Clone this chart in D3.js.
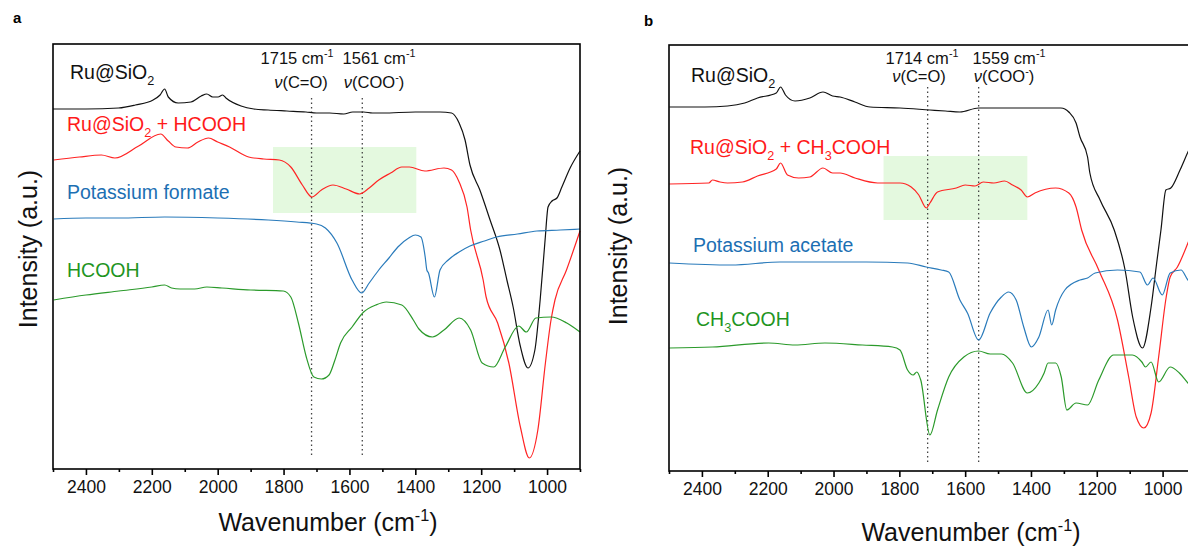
<!DOCTYPE html>
<html>
<head>
<meta charset="utf-8">
<script src="https://cdn.jsdelivr.net/npm/d3@7/dist/d3.min.js"></script>
<style>
body{margin:0;background:#fff;}
svg{font-family:"Liberation Sans",Arial,sans-serif;display:block;}
</style>
</head>
<body>
<div id="chart"></div>
<script>
// x ticks (wavenumber, cm-1)
const majorTicks=[2400,2200,2000,1800,1600,1400,1200,1000];
const minorTicks=[2500,2300,2100,1900,1700,1500,1300,1100,900];

// panel a : [wavenumber, intensity (a.u., offset)]
const aRu=[[2500,360],[2400,360],[2301,361],[2250,364],[2196,369],[2175,374],[2161,380],[2150,372],[2120,366],[2081,367],[2050,373],[2033,375],[2015,372],[1999,372],[1985,374],[1975,371],[1929,363],[1890,360],[1847,359],[1790,358],[1732,357],[1700,356],[1660,356],[1617,355],[1590,357],[1557,357],[1530,356],[1499,356],[1400,357],[1325,357],[1290,356],[1267,346],[1249,329],[1234,304],[1204,279],[1173,249],[1143,219],[1122,189],[1103,162],[1082,124],[1058,101],[1037,119],[1021,169],[1006,229],[997,262],[985,268],[970,271],[955,282],[930,301],[900,318]];
const aRuHCOOH=[[2498,309],[2420,312],[2353,314],[2312,311],[2240,323],[2173,335],[2150,328],[2127,322],[2092,321],[2060,327],[2028,331],[2000,327],[1964,322],[1906,312],[1860,310],[1813,309],[1778,302],[1743,284],[1714,272],[1685,279],[1650,284],[1610,280],[1569,275],[1540,281],[1511,289],[1475,296],[1441,302],[1418,302],[1371,298],[1313,301],[1290,299],[1267,287],[1243,262],[1232,239],[1194,189],[1185,172],[1150,146],[1116,106],[1081,42],[1054,11],[1028,39],[1005,106],[988,149],[976,169],[941,199],[900,238]];
const aKFormate=[[2498,250],[2400,251],[2300,251],[2161,252],[2000,251],[1847,249],[1760,247],[1700,245],[1673,241],[1638,226],[1592,189],[1563,176],[1540,186],[1511,199],[1480,211],[1453,222],[1420,231],[1400,234],[1383,232],[1370,212],[1365,199],[1360,196],[1342,172],[1325,199],[1300,209],[1267,217],[1234,223],[1190,228],[1153,232],[1090,235],[1031,238],[960,239],[900,240]];
const aHCOOH=[[2498,169],[2400,174],[2300,178],[2200,182],[2161,184],[2140,181],[2114,180],[2070,180],[2033,182],[1987,181],[1900,179],[1801,178],[1778,172],[1755,146],[1731,112],[1708,92],[1685,90],[1662,94],[1645,108],[1627,126],[1592,142],[1557,157],[1520,164],[1488,167],[1441,164],[1406,149],[1389,140],[1348,132],[1313,139],[1267,151],[1232,139],[1197,106],[1162,102],[1127,122],[1086,143],[1063,137],[1034,151],[988,152],[940,146],[900,137]];
const aBox=[1832,1397,256,322];
const aPeaks=[1715,1561];

// panel b
const bRu=[[2499,364],[2391,364],[2322,365],[2270,368],[2231,373],[2174,378],[2161,384],[2146,376],[2117,370],[2072,373],[2032,379],[2003,375],[1980,374],[1935,369],[1889,364],[1798,363],[1707,361],[1660,360],[1616,359],[1559,363],[1456,363],[1309,363],[1285,359],[1263,348],[1251,334],[1228,314],[1221,298],[1190,271],[1147,241],[1114,201],[1091,154],[1061,123],[1035,164],[1018,208],[1005,241],[990,281],[975,283],[947,301],[923,319],[900,335]];
const bRuAcOH=[[2499,287],[2379,288],[2368,291],[2345,289],[2322,288],[2277,289],[2231,295],[2174,302],[2161,308],[2140,296],[2106,293],[2072,294],[2032,303],[2003,298],[1980,298],[1935,293],[1866,288],[1798,288],[1764,284],[1741,276],[1718,263],[1707,268],[1684,279],[1627,283],[1600,286],[1570,285],[1545,289],[1513,288],[1480,290],[1456,286],[1430,281],[1411,274],[1388,278],[1325,283],[1285,278],[1263,264],[1246,241],[1194,201],[1137,151],[1103,94],[1080,54],[1057,43],[1035,58],[1012,114],[989,174],[977,194],[955,204],[923,228],[900,248]];
const bKAcetate=[[2499,208],[2311,206],[2163,209],[2026,209],[1900,209],[1775,208],[1718,204],[1673,201],[1650,199],[1616,171],[1593,158],[1559,131],[1524,158],[1490,174],[1468,179],[1445,171],[1422,144],[1399,124],[1376,134],[1348,161],[1337,146],[1325,161],[1297,181],[1251,191],[1228,193],[1205,198],[1137,201],[1069,199],[1046,186],[1029,193],[1001,176],[977,198],[944,201],[923,191],[900,185]];
const bAcOH=[[2499,123],[2368,124],[2197,128],[2117,126],[2026,128],[1912,126],[1821,124],[1798,121],[1775,101],[1758,96],[1747,99],[1735,91],[1707,36],[1684,61],[1650,94],[1604,114],[1559,120],[1524,117],[1490,117],[1456,108],[1411,78],[1376,88],[1360,98],[1348,108],[1325,108],[1308,94],[1291,61],[1263,68],[1228,66],[1194,91],[1149,116],[1092,116],[1063,109],[1052,104],[1035,109],[1012,89],[977,104],[949,98],[923,88],[900,80]];
const bBox=[1848,1411,251,315];
const bPeaks=[1714,1559];

const colBlack="#111",colRed="#ff2424",colBlue="#2a7bbb",colGreen="#2b9a2b";

let svg=d3.select("#chart").append("svg").attr("width",1188).attr("height",547);

// text with sub / superscripts: parts = [[txt, "sub"|"sup"|"it"|undefined], ...]
function richText(g,x,y,parts,fs,color,anchor){
	let t=g.append("text").attr("x",x).attr("y",y).attr("font-size",fs).attr("fill",color).attr("text-anchor",anchor||"start");
	let shift=0;
	parts.forEach(p=>{
		let mode=p[1];
		let target= mode=="sub" ? fs*0.3 : (mode=="sup" ? -fs*0.4 : 0);
		let ts=t.append("tspan").text(p[0]).attr("dy",target-shift);
		if(mode=="sub"||mode=="sup") ts.attr("font-size",fs*0.65);
		if(mode=="it") ts.attr("font-style","italic");
		shift=target;
	});
	return t;
}

function drawPanel(cfg){
	let x=d3.scaleLinear().domain([2500,900]).range([cfg.left,cfg.right]);
	let y=d3.scaleLinear().domain([0,cfg.bottom-cfg.top]).range([cfg.bottom,cfg.top]);
	let g=svg.append("g");

	// green highlight
	g.append("rect")
		.attr("x",x(cfg.box[0])).attr("width",x(cfg.box[1])-x(cfg.box[0]))
		.attr("y",y(cfg.box[3])).attr("height",y(cfg.box[2])-y(cfg.box[3]))
		.attr("fill","#e4f9df");

	// dotted peak markers
	cfg.peaks.forEach(p=>{
		g.append("line").attr("x1",x(p)).attr("x2",x(p))
			.attr("y1",y(cfg.dotTop)).attr("y2",y(cfg.dotBottom))
			.attr("stroke","#444").attr("stroke-width",1.3).attr("stroke-dasharray","1.5,3");
	});

	let line=d3.line().x(d=>x(d[0])).y(d=>y(d[1])).curve(d3.curveMonotoneX);
	cfg.series.forEach(s=>{
		g.append("path").datum(s.data).attr("d",line)
			.attr("fill","none").attr("stroke",s.color).attr("stroke-width",1.2);
	});

	// frame
	g.append("rect").attr("x",cfg.left).attr("y",cfg.top)
		.attr("width",cfg.right-cfg.left).attr("height",cfg.bottom-cfg.top)
		.attr("fill","none").attr("stroke","#000").attr("stroke-width",1.6);

	let ax=g.append("g").attr("transform","translate(0,"+cfg.bottom+")")
		.call(d3.axisBottom(x).tickValues(majorTicks).tickSize(6).tickPadding(6).tickFormat(d3.format("d")));
	ax.select(".domain").remove();
	ax.selectAll("line").attr("stroke-width",1.6);
	ax.selectAll("text").attr("font-size",17.5).attr("font-family","Liberation Sans, Arial").attr("fill","#111");

	let mx=g.append("g").attr("transform","translate(0,"+cfg.bottom+")")
		.call(d3.axisBottom(x).tickValues(minorTicks).tickSize(3).tickFormat(""));
	mx.select(".domain").remove();
	mx.selectAll("line").attr("stroke-width",1.6);

	// axis titles
	richText(svg,cfg.xTitle[0],cfg.xTitle[1],[["Wavenumber (cm"],["-1","sup"],[")"]],25,"#111","middle");
	svg.append("text").attr("transform","translate("+cfg.yTitle[0]+","+cfg.yTitle[1]+") rotate(-90)")
		.attr("text-anchor","middle").attr("font-size",25).attr("fill","#111").text("Intensity (a.u.)");

	svg.append("text").attr("x",cfg.letter[0]).attr("y",cfg.letter[1]).attr("font-size",15)
		.attr("font-weight","bold").text(cfg.id);

	// peak annotations
	let an=cfg.ann;
	richText(svg,an[0][0],an[0][1],[[cfg.peaks[0]+" cm"],["-1","sup"]],16.5,"#111","middle");
	richText(svg,an[1][0],an[1][1],[["ν","it"],["(C=O)"]],16.5,"#111","middle");
	richText(svg,an[2][0],an[2][1],[[cfg.peaks[1]+" cm"],["-1","sup"]],16.5,"#111","middle");
	richText(svg,an[3][0],an[3][1],[["ν","it"],["(COO"],["-","sup"],[")"]],16.5,"#111","middle");

	cfg.labels.forEach(l=>richText(svg,l.x,l.y,l.parts,19.5,l.color));
}

drawPanel({
	id:"a",left:53,right:580,top:44,bottom:469,
	box:aBox,peaks:aPeaks,dotTop:371,dotBottom:12,
	series:[{data:aRu,color:colBlack},{data:aRuHCOOH,color:colRed},{data:aKFormate,color:colBlue},{data:aHCOOH,color:colGreen}],
	xTitle:[328,531],yTitle:[37,249],letter:[13,23],
	ann:[[297,64],[301,88],[379,64],[374,88]],
	labels:[
		{x:70,y:79,color:"#111",parts:[["Ru@SiO"],["2","sub"]]},
		{x:67,y:131,color:"#ff1a1a",parts:[["Ru@SiO"],["2","sub"],[" + HCOOH"]]},
		{x:67,y:199,color:"#1c6fb3",parts:[["Potassium formate"]]},
		{x:67,y:277,color:"#1f951f",parts:[["HCOOH"]]}
	]
});

drawPanel({
	id:"b",left:669,right:1195.5,top:45,bottom:471,
	box:bBox,peaks:bPeaks,dotTop:384,dotBottom:6,
	series:[{data:bRu,color:colBlack},{data:bRuAcOH,color:colRed},{data:bKAcetate,color:colBlue},{data:bAcOH,color:colGreen}],
	xTitle:[971,541],yTitle:[627,246],letter:[644,26],
	ann:[[922,64],[919,82],[1009,64],[1004,82]],
	labels:[
		{x:691,y:82,color:"#111",parts:[["Ru@SiO"],["2","sub"]]},
		{x:690,y:154,color:"#ff1a1a",parts:[["Ru@SiO"],["2","sub"],[" + CH"],["3","sub"],["COOH"]]},
		{x:693,y:252,color:"#1c6fb3",parts:[["Potassium acetate"]]},
		{x:696,y:326,color:"#1f951f",parts:[["CH"],["3","sub"],["COOH"]]}
	]
});
</script>
</body>
</html>
